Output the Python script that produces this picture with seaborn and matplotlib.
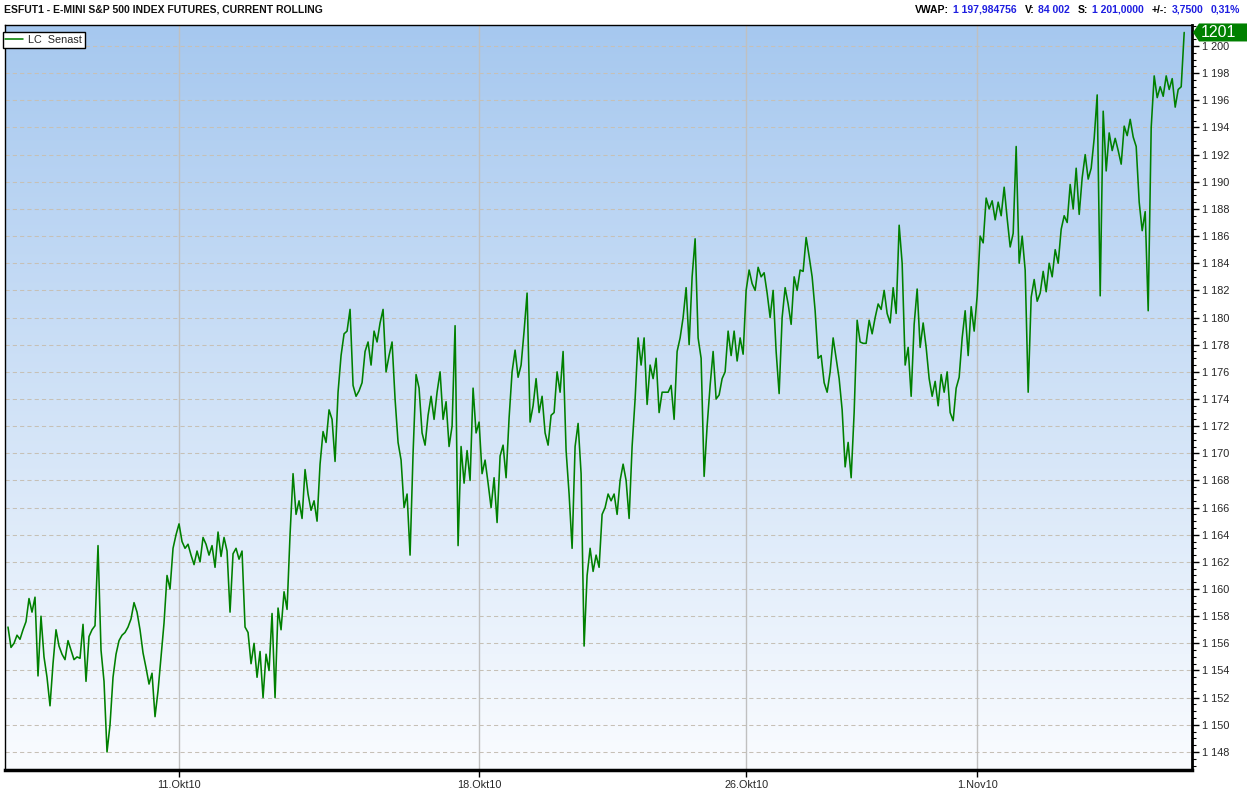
import numpy as np
import pandas as pd
import matplotlib
matplotlib.use('Agg')
import matplotlib.pyplot as plt
import seaborn as sns
from matplotlib.colors import LinearSegmentedColormap
from matplotlib.ticker import FuncFormatter, MultipleLocator
from matplotlib.patches import Polygon
from matplotlib.transforms import IdentityTransform

# ES futures, last price (one value per ~3 px of the original)
price = [
    # 7 -> 11 Okt
    1157.2, 1155.7, 1156.0, 1156.6, 1156.3, 1157.0, 1157.6, 1159.3, 1158.3, 1159.4,
    1153.6, 1158.0, 1155.0, 1153.5, 1151.4, 1154.5, 1157.0, 1155.8, 1155.2, 1154.8,
    1156.2, 1155.5, 1154.8, 1155.0, 1154.9, 1157.4, 1153.2, 1156.5, 1157.0, 1157.3,
    1163.2, 1155.5, 1153.2, 1148.0, 1150.0, 1153.5, 1155.2, 1156.2, 1156.6, 1156.8,
    1157.2, 1157.8, 1159.0, 1158.3, 1157.0, 1155.3, 1154.2, 1153.0, 1153.8, 1150.6,
    1152.5, 1155.0, 1157.5, 1161.0, 1160.0, 1163.0, 1164.0, 1164.8, 1163.5, 1163.0,
    1163.3, 1162.5, 1161.8, 1162.8, 1162.0,
    # 11 Okt -> 18 Okt
    1163.8, 1163.3, 1162.5, 1163.2, 1161.6, 1164.2, 1162.4, 1163.8, 1162.8, 1158.3,
    1162.6, 1163.0, 1162.2, 1162.8, 1157.2, 1156.8, 1154.5, 1156.0, 1153.5, 1155.4,
    1152.0, 1155.2, 1154.0, 1158.2, 1152.0, 1158.6, 1157.0, 1159.8, 1158.5, 1164.0,
    1168.5, 1165.5, 1166.5, 1165.2, 1168.8, 1167.0, 1165.8, 1166.5, 1165.0, 1169.2,
    1171.6, 1170.8, 1173.2, 1172.5, 1169.4, 1174.5, 1177.2, 1178.8, 1179.0, 1180.6,
    1175.0, 1174.2, 1174.6, 1175.2, 1177.5, 1178.2, 1176.5, 1179.0, 1178.2, 1179.6,
    1180.6, 1176.0, 1177.2, 1178.2, 1174.0,
    1170.8, 1169.5, 1166.0, 1167.0, 1162.5, 1170.0, 1175.8, 1174.8, 1171.5, 1170.6,
    1172.8, 1174.2, 1172.5, 1174.5, 1176.0, 1172.5, 1173.8, 1170.5, 1172.0, 1179.4,
    1163.2, 1170.5, 1167.8, 1170.2, 1168.0, 1174.8, 1171.5, 1172.3, 1168.5, 1169.5,
    # 18 Okt -> 26 Okt
    1167.8, 1166.0, 1168.2, 1164.9, 1169.8, 1170.6, 1168.2, 1172.6, 1176.0, 1177.6,
    1175.6, 1176.5, 1179.0, 1181.8, 1172.3, 1173.5, 1175.5, 1173.0, 1174.2, 1171.5,
    1170.6, 1172.8, 1173.0, 1176.0, 1174.5, 1177.5, 1170.2, 1167.0, 1163.0, 1170.5,
    1172.2, 1168.5, 1155.8, 1161.0, 1163.0, 1161.3, 1162.5, 1161.6, 1165.5, 1166.0,
    1167.0, 1166.5, 1167.0, 1165.5, 1168.0, 1169.2, 1168.0, 1165.2,
    1170.5, 1174.0, 1178.5, 1176.5, 1178.5, 1173.6, 1176.5, 1175.5, 1177.0, 1173.0,
    1174.5, 1174.5, 1174.5, 1175.0, 1172.5, 1177.5, 1178.5, 1180.0, 1182.2, 1178.0,
    1183.0, 1185.8, 1178.5, 1177.0, 1168.3, 1172.0, 1175.0, 1177.5, 1174.0, 1174.3,
    1175.5, 1176.0, 1179.0, 1177.2, 1179.0, 1176.8, 1178.5, 1177.3, 1182.0, 1183.5,
    # 26 Okt -> 1 Nov
    1182.5, 1182.0, 1183.7, 1183.0, 1183.3, 1181.8, 1180.0, 1182.0, 1177.5, 1174.4,
    1180.0, 1182.2, 1181.0, 1179.5, 1183.0, 1182.0, 1183.5, 1183.4, 1185.9,
    1184.5, 1183.0, 1180.5, 1177.0, 1177.2, 1175.2, 1174.5, 1176.0, 1178.5, 1177.0,
    1175.5, 1173.2, 1169.0, 1170.8, 1168.2, 1173.0, 1179.8, 1178.2, 1178.1, 1178.1,
    1179.8, 1178.8, 1180.0, 1181.0, 1180.6, 1182.0, 1180.3, 1179.6, 1182.2, 1180.3,
    1186.8, 1184.0, 1176.5, 1177.8, 1174.2, 1179.5, 1182.1, 1177.8, 1179.6, 1177.8,
    1175.5, 1174.2, 1175.3, 1173.5, 1175.8, 1174.5, 1176.0, 1173.0, 1172.4, 1174.8,
    1175.6, 1178.5, 1180.5, 1177.2, 1180.8, 1179.0, 1181.6,
    # 1 Nov -> end
    1186.0, 1185.5, 1188.8, 1188.0, 1188.6, 1187.2, 1188.5, 1187.5, 1189.6, 1187.3,
    1185.2, 1186.2, 1192.6, 1184.0, 1186.0, 1183.5, 1174.5, 1181.5, 1182.8, 1181.2,
    1181.8, 1183.4, 1181.9, 1184.0, 1183.0, 1185.0, 1184.0, 1186.5, 1187.5, 1187.0,
    1189.8, 1188.0, 1191.0, 1187.6, 1190.3, 1192.0, 1190.2, 1191.0, 1193.2, 1196.4,
    1181.6, 1195.2, 1190.8, 1193.6, 1192.3, 1193.2, 1192.3, 1191.3, 1194.1, 1193.4,
    1194.6, 1193.3, 1192.6, 1188.5, 1186.4, 1187.8, 1180.5, 1194.0, 1197.8, 1196.2,
    1197.0, 1196.3, 1197.8, 1196.8, 1197.6, 1195.5, 1196.8, 1197.0, 1201.0,
]

date_ticks = [57, 157, 246, 323]
date_labels = ['11.Okt10', '18.Okt10', '26.Okt10', '1.Nov10']
last_price = 1201

title = 'ESFUT1 - E-MINI S&P 500 INDEX FUTURES, CURRENT ROLLING'
header = [('VWAP:', 'black'), ('1 197,984756', '#1e1ee0'),
          ('V:', 'black'), ('84 002', '#1e1ee0'),
          ('S:', 'black'), ('1 201,0000', '#1e1ee0'),
          ('+/-:', 'black'), ('3,7500', '#1e1ee0'), ('0,31%', '#1e1ee0')]

sns.set_theme(style='white')
plt.rcParams['font.family'] = ['Liberation Sans', 'DejaVu Sans']

W, H = 1247, 791
fig = plt.figure(figsize=(W / 100, H / 100), dpi=100)
ax = fig.add_axes([5 / W, 21 / H, 1187 / W, 745 / H])

df = pd.DataFrame({'bar': np.arange(len(price)), 'price': price})
sns.lineplot(data=df, x='bar', y='price', color='#008000', lw=1.15,
             ax=ax, label='LC  Senast', zorder=3)

xlim = (-1, len(price) + 1.6)
ylim = (1146.67, 1201.55)

# blue -> white background
cmap = LinearSegmentedColormap.from_list('bg', ['#fafcff', '#a6c8ef'])
ax.imshow(np.linspace(0, 1, 256).reshape(-1, 1), cmap=cmap, origin='lower',
          extent=[xlim[0], xlim[1], ylim[0], ylim[1]], aspect='auto', zorder=0)
ax.set_xlim(*xlim)
ax.set_ylim(*ylim)

ax.yaxis.tick_right()
ax.yaxis.set_major_locator(MultipleLocator(2))
ax.yaxis.set_minor_locator(MultipleLocator(0.5))
ax.yaxis.set_major_formatter(FuncFormatter(lambda v, p: f'{int(round(v)):,}'.replace(',', ' ')))
ax.tick_params(axis='y', which='major', right=True, left=False, length=5, width=1,
               color='black', labelsize=7.8, pad=2, direction='out')
ax.tick_params(axis='y', which='minor', right=True, left=False, length=3, width=0.8,
               color='black', direction='out')

ax.set_xticks(date_ticks, date_labels)
ax.tick_params(axis='x', bottom=True, length=5, width=1, color='black',
               labelsize=7.8, pad=2, direction='out')
ax.set_xlabel('')
ax.set_ylabel('')

ax.xaxis.grid(True, color='#c0c0c0', lw=1, ls='-', zorder=1)
ax.yaxis.grid(True, which='major', color='#c6c0b6', lw=0.75, ls=(0, (4, 3)), zorder=1)
ax.yaxis.grid(False, which='minor')
ax.set_axisbelow(True)

for side, w in [('left', 1), ('top', 1), ('right', 2), ('bottom', 2.5)]:
    ax.spines[side].set_visible(True)
    ax.spines[side].set_color('black')
    ax.spines[side].set_linewidth(w)

leg = ax.legend(loc='upper left', bbox_to_anchor=(-0.002, 0.99), borderaxespad=0,
                fancybox=False, framealpha=1, edgecolor='black', fontsize=7.8,
                handlelength=1.6, handletextpad=0.5, borderpad=0.25)
leg.get_frame().set_linewidth(1)

# header texts
fig.text(4 / W, 1 - 10 / H, title, ha='left', va='center', fontsize=7.5,
         fontweight='bold', color='#111111')

fig.canvas.draw()
renderer = fig.canvas.get_renderer()
gaps = [4, 8, 4, 8, 4, 8, 4, 7, 0]
x = 1240
for (s, c), g in zip(reversed(header), reversed(gaps)):
    x -= g
    t = fig.text(x / W, 1 - 10 / H, s, ha='right', va='center', fontsize=7.5,
                 fontweight='bold', color=c)
    bb = t.get_window_extent(renderer)
    x = bb.x0

# last price tag on the right axis
y0 = ax.transData.transform((0, last_price))[1]
xr = ax.transAxes.transform((1, 0))[0]
tag = Polygon([(xr + 1, y0), (xr + 7, y0 + 9), (W, y0 + 9), (W, y0 - 9), (xr + 7, y0 - 9)],
              closed=True, transform=IdentityTransform(), facecolor='#008000',
              edgecolor='none', zorder=5)
fig.patches.append(tag)
fig.text((xr + 9) / W, y0 / H, str(last_price), ha='left', va='center',
         fontsize=11.5, color='white', zorder=6)

fig.savefig('out.png', dpi=100)
